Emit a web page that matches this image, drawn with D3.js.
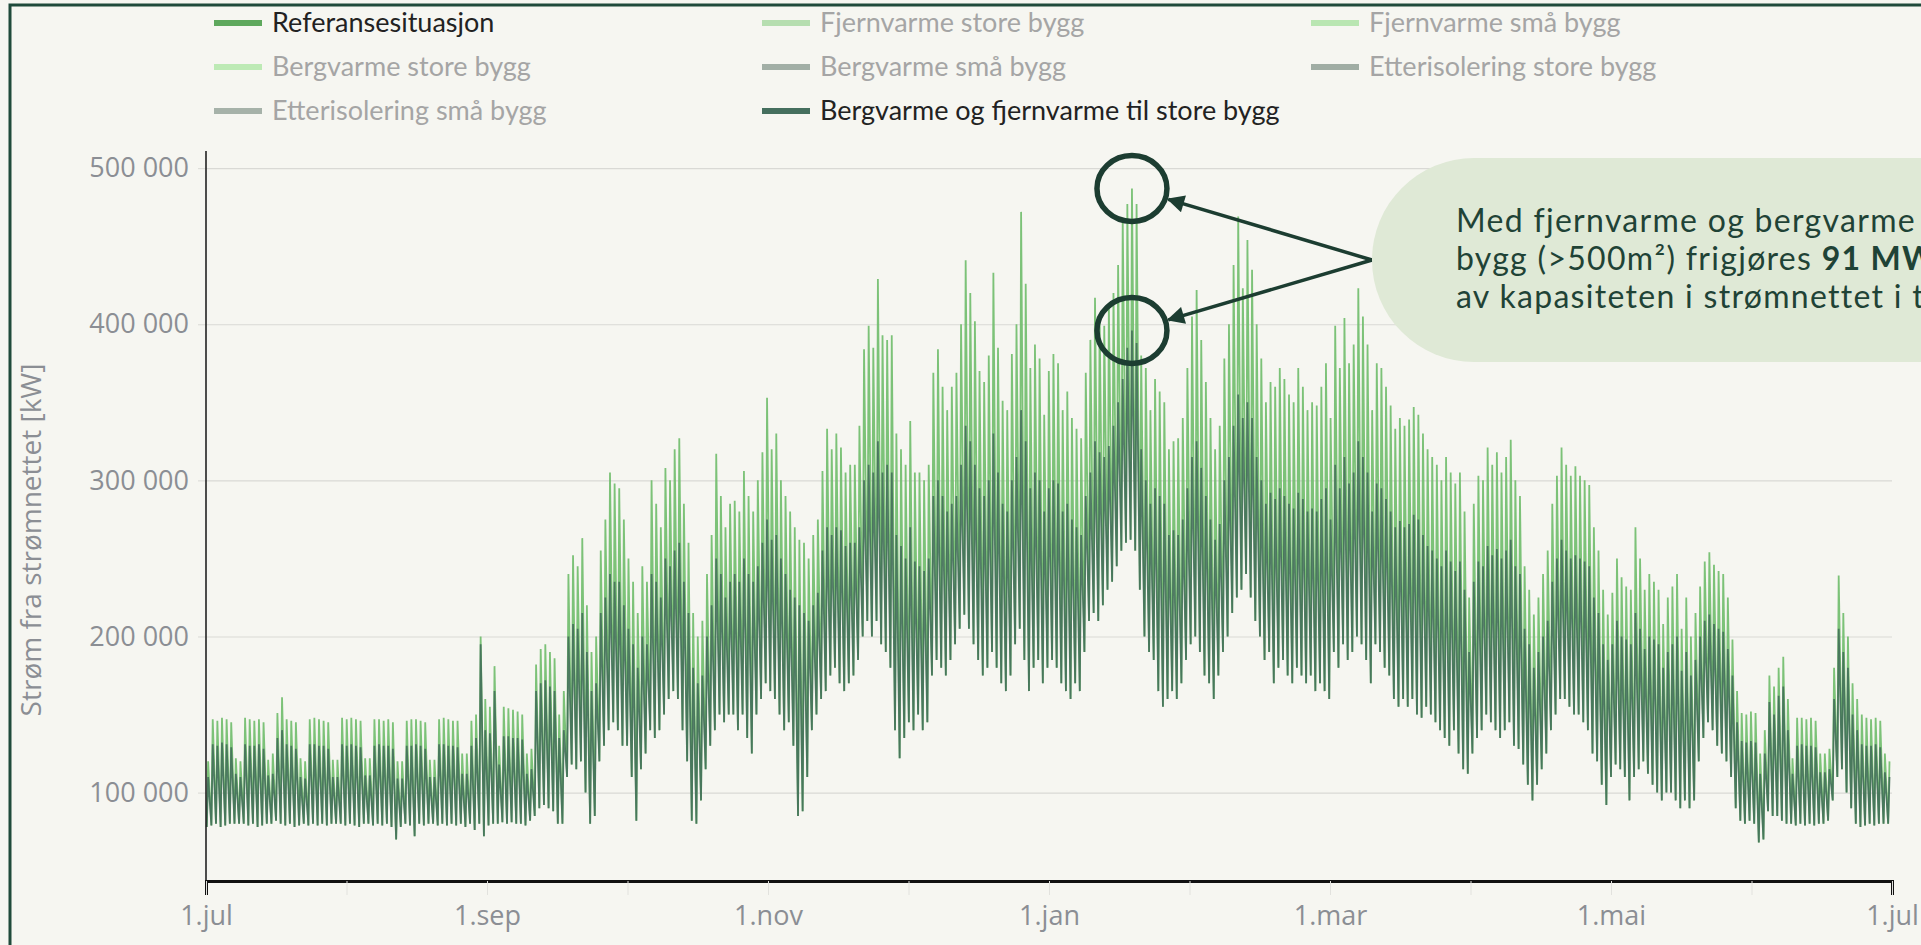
<!DOCTYPE html>
<html>
<head>
  <meta charset="UTF-8">
  <title>Strøm fra strømnettet</title>
  <style>
    body {
      margin: 0;
      background-color: #f6f6f1;
      overflow: hidden;
    }

    svg {
      display: block;
    }

    .axis text {
      font-family: "Open Sans", sans-serif;
      fill: #8b8e94;
    }
  </style>
</head>

<body>
  <svg id="chart" width="1921" height="945"></svg>

  <script src="https://cdnjs.cloudflare.com/ajax/libs/d3/7.8.5/d3.min.js"></script>
  <script>
    // Daily values, in 1000 kW, one row per week (Sun..Sat), starting 1.jul
    const refHigh = [
      120, 147, 146, 148, 147, 145, 122,
      120, 148, 147, 146, 147, 145, 121,
      125, 151, 161, 147, 146, 145, 122,
      120, 147, 148, 147, 146, 145, 121,
      121, 148, 147, 148, 147, 146, 122,
      122, 147, 147, 146, 147, 145, 120,
      120, 146, 147, 147, 146, 145, 121,
      121, 147, 148, 147, 146, 146, 125,
      125, 146, 150, 200, 160, 155, 181,
      130, 155, 154, 153, 152, 150, 125,
      128, 182, 192, 195, 190, 186, 150,
      165, 240, 252, 245, 263, 220, 190,
      200, 255, 275, 305, 298, 295, 275,
      250, 235, 215, 245, 235, 300, 285,
      270, 308, 300, 320, 327, 285, 260,
      215, 200, 210, 240, 265, 317, 290,
      270, 285, 287, 280, 306, 290, 280,
      300, 318, 353, 320, 330, 300, 290,
      280, 270, 262, 260, 250, 265, 275,
      306, 333, 320, 330, 321, 305, 310,
      310, 335, 384, 399, 385, 429, 393,
      390, 393, 330, 320, 310, 338, 305,
      305, 300, 310, 369, 384, 360, 345,
      360, 369, 400, 441, 420, 402, 370,
      363, 380, 433, 385, 351, 345, 381,
      400, 472, 426, 372, 387, 378, 342,
      370, 381, 375, 345, 357, 340, 333,
      327, 369, 390, 417, 405, 399, 412,
      420, 438, 468, 477, 487, 477, 380,
      372, 345, 365, 357, 350, 320, 325,
      327, 340, 372, 405, 422, 390, 363,
      340, 320, 335, 378, 400, 438, 469,
      423, 454, 435, 400, 378, 350, 363,
      360, 372, 365, 355, 350, 372, 360,
      345, 350, 348, 360, 375, 340, 399,
      372, 404, 375, 387, 423, 405, 387,
      345, 375, 372, 360, 348, 333, 340,
      335, 339, 347, 342, 330, 320, 315,
      310, 300, 315, 305, 298, 305, 280,
      225, 285, 303, 300, 321, 310, 318,
      305, 315, 326, 300, 290, 245, 230,
      214, 225, 240, 255, 285, 303, 321,
      310, 303, 309, 303, 300, 297, 270,
      255, 230, 214, 228, 250, 238, 232,
      230, 270, 250, 230, 240, 235, 230,
      208, 225, 232, 240, 205, 225, 200,
      215, 232, 248, 254, 246, 242, 240,
      225, 198, 165, 151, 150, 152, 151,
      125, 140, 175, 168, 180, 187, 160,
      122, 148, 148, 147, 148, 146, 125,
      125, 128, 180, 239, 215, 200, 170,
      160, 150, 148, 147, 148, 146, 125,
      120
    ];

    const altHigh = [
      110, 131, 130, 132, 131, 129, 112,
      110, 131, 130, 130, 131, 128, 111,
      112, 135, 140, 131, 130, 128, 110,
      109, 131, 131, 130, 130, 128, 110,
      110, 131, 130, 131, 130, 129, 111,
      111, 130, 131, 130, 130, 128, 109,
      109, 130, 130, 131, 130, 128, 110,
      110, 131, 131, 130, 130, 129, 112,
      112, 130, 135, 195, 140, 138, 165,
      118, 136, 136, 135, 135, 134, 112,
      115, 165, 170, 172, 168, 165, 135,
      140, 200, 208, 205, 215, 190, 165,
      170, 215, 225, 240, 235, 235, 220,
      205, 195, 180, 200, 195, 240, 235,
      225, 250, 245, 255, 260, 235, 215,
      180, 170, 175, 200, 220, 250, 240,
      225, 235, 240, 235, 250, 240, 235,
      245, 260, 275, 262, 265, 250, 240,
      230, 225, 220, 215, 210, 220, 228,
      255, 270, 265, 270, 268, 258, 260,
      260, 270, 300, 310, 305, 325, 305,
      310, 305, 265, 258, 250, 270, 248,
      245, 242, 250, 290, 300, 290, 280,
      285, 290, 310, 335, 325, 310, 295,
      290, 300, 330, 305, 285, 280, 300,
      315, 345, 325, 295, 305, 300, 280,
      295, 300, 298, 280, 285, 275, 270,
      265, 290, 305, 325, 318, 315, 322,
      335, 350, 365, 385, 396, 388, 320,
      300, 285, 295, 290, 285, 265, 268,
      265, 275, 295, 315, 325, 308, 290,
      275, 262, 272, 300, 315, 335, 355,
      340, 350, 340, 315, 300, 285, 292,
      288, 295, 290, 285, 282, 292, 288,
      280, 282, 280, 288, 295, 275, 310,
      295, 315, 298, 305, 325, 315, 305,
      280, 298, 295, 288, 280, 270, 274,
      270, 272, 278, 275, 265, 258, 255,
      250, 245, 255, 248, 242, 248, 230,
      190, 235, 248, 245, 258, 252, 256,
      250, 255, 262, 245, 240, 205, 195,
      180, 190, 200, 210, 235, 250, 262,
      255, 250, 252, 250, 248, 245, 225,
      215, 195, 185, 195, 210, 200, 198,
      195, 215, 205, 192, 200, 198, 195,
      180, 190, 195, 200, 178, 190, 175,
      185, 200, 210, 214, 208, 205, 203,
      192, 175, 145, 133, 132, 133, 132,
      112, 125, 158, 150, 162, 168, 140,
      112, 130, 131, 130, 130, 129, 113,
      113, 115, 160, 205, 190, 180, 150,
      140, 131, 130, 130, 131, 129, 113,
      110
    ];

    // night-time lows, shared by both visible series
    const dayLow = [
      78, 79, 80, 78, 79, 80, 80,
      80, 80, 79, 80, 78, 79, 80,
      80, 82, 80, 79, 80, 78, 79,
      80, 79, 80, 79, 80, 79, 80,
      80, 80, 79, 80, 79, 78, 80,
      80, 79, 80, 79, 80, 78, 70,
      78, 80, 79, 72, 80, 79, 80,
      80, 79, 80, 79, 80, 79, 80,
      78, 80, 76, 80, 72, 79, 80,
      80, 81, 80, 81, 80, 80, 79,
      82, 85, 90, 92, 90, 88, 80,
      80, 110, 118, 115, 120, 100, 80,
      85, 120, 130, 140, 145, 140, 130,
      130, 110, 82, 115, 125, 140, 135,
      140, 150, 160, 165, 160, 140, 120,
      82, 80, 95, 115, 130, 140, 150,
      145, 150, 150, 140, 150, 135, 125,
      150, 160, 170, 165, 160, 150, 140,
      145, 130, 85, 88, 110, 140, 150,
      160, 165, 175, 180, 170, 165, 170,
      175, 185, 200, 210, 200, 210, 195,
      190, 180, 140, 122, 135, 145, 140,
      150, 140, 145, 175, 185, 180, 175,
      185, 195, 205, 214, 205, 195, 185,
      175, 180, 190, 180, 170, 165, 175,
      195, 205, 185, 165, 180, 185, 170,
      180, 185, 180, 170, 165, 160, 170,
      165, 190, 210, 215, 210, 220, 230,
      235, 245, 255, 260, 262, 255, 230,
      200, 190, 185, 165, 155, 160, 165,
      160, 170, 185, 195, 200, 190, 175,
      170, 160, 175, 190, 200, 215, 225,
      230, 240, 225, 210, 200, 185, 190,
      170, 180, 185, 175, 170, 180, 175,
      170, 175, 165, 170, 165, 160, 190,
      180, 195, 185, 190, 200, 195, 185,
      170, 195, 190, 180, 175, 160, 155,
      160, 155, 160, 150, 148, 155, 150,
      145, 140, 135, 130, 140, 125, 115,
      112, 125, 135, 140, 150, 145, 140,
      135, 140, 145, 130, 128, 118, 105,
      95, 105, 115, 125, 140, 150, 160,
      160, 155, 150, 150, 145, 140, 125,
      120, 105, 92, 110, 118, 115, 110,
      95, 110, 115, 120, 112, 105, 100,
      95, 100, 100, 95, 90, 95, 90,
      95, 120, 135, 145, 140, 130, 125,
      120, 110, 90, 82, 80, 82, 80,
      68, 70, 88, 85, 85, 82, 80,
      80, 79, 80, 79, 80, 79, 80,
      80, 82, 95, 110, 115, 100, 90,
      80, 78, 79, 80, 79, 80, 80,
      80
    ];

    const seriesNames = [
      "Referansesituasjon", "Fjernvarme store bygg", "Fjernvarme små bygg",
      "Bergvarme store bygg", "Bergvarme små bygg", "Etterisolering store bygg",
      "Etterisolering små bygg", "Bergvarme og fjernvarme til store bygg"
    ];
    const seriesColors = [
      "#5ea85d", "#b6deb0", "#b9e6b2",
      "#bdeab5", "#a2afa6", "#a0ada4",
      "#a6b2a9", "#456f5e"
    ];
    const seriesVisible = [true, false, false, false, false, false, false, true];

    const xTickLabels = ["1.jul", "1.aug", "1.sep", "1.okt", "1.nov", "1.des", "1.jan",
      "1.feb", "1.mar", "1.apr", "1.mai", "1.jun", "1.jul"];
    const yTicks = [100000, 200000, 300000, 400000, 500000];

    const noteLines = [
      [{ t: "Med fjernvarme og bergvarme til store" }],
      [{ t: "bygg (>500m²) frigjøres " }, { t: "91 MW", bold: true }],
      [{ t: "av kapasiteten i strømnettet i toppen" }]
    ];

    const UNIT = 1000;
    const HOURS = 8760;

    const svg = d3.select("#chart");

    const x = d3.scaleLinear().domain([0, HOURS]).range([206, 1892]);
    const y = d3.scaleLinear().domain([44000, 511000]).range([880, 151]);

    const nb = d3.formatLocale({ decimal: ",", thousands: " ", grouping: [3], currency: ["", ""] });
    const fmt = nb.format(",d");

    // frame
    svg.append("path")
      .attr("d", "M10,946V5H1922")
      .attr("fill", "none")
      .attr("stroke", "#1f4a3b")
      .attr("stroke-width", 3);

    // gridlines
    svg.append("g")
      .attr("transform", "translate(206,0)")
      .call(d3.axisRight(y).tickValues(yTicks).tickSize(1892 - 206).tickFormat(""))
      .call(g => g.select(".domain").remove())
      .call(g => g.selectAll("line").attr("stroke", "#d9d9d5").attr("stroke-width", 1.2));

    // series
    function dailyPoints(highs) {
      const pts = [];
      highs.forEach((h, d) => {
        pts.push([d * 24 + 4, dayLow[d] * UNIT]);
        pts.push([d * 24 + 11, h * UNIT]);
      });
      return pts;
    }

    const line = d3.line()
      .x(d => x(d[0]))
      .y(d => y(d[1]));

    svg.append("path")
      .datum(dailyPoints(refHigh))
      .attr("d", line)
      .attr("fill", "none")
      .attr("stroke", "#6fbd6a")
      .attr("stroke-opacity", 0.9)
      .attr("stroke-width", 1.8);

    svg.append("path")
      .datum(dailyPoints(altHigh))
      .attr("d", line)
      .attr("fill", "none")
      .attr("stroke", "#3f6b57")
      .attr("stroke-opacity", 0.85)
      .attr("stroke-width", 1.8);

    // y axis
    const yAxis = svg.append("g")
      .attr("class", "axis")
      .attr("transform", "translate(206,0)")
      .call(d3.axisLeft(y).tickValues(yTicks).tickSize(8).tickPadding(9).tickFormat(fmt));
    yAxis.select(".domain").remove();
    yAxis.selectAll("line").attr("stroke", "#d9d9d5");
    yAxis.selectAll("text").attr("font-size", 27);

    svg.append("line")
      .attr("x1", 206).attr("x2", 206)
      .attr("y1", y.range()[1]).attr("y2", y.range()[0])
      .attr("stroke", "#222")
      .attr("stroke-width", 1.6);

    // x axis
    const xAxis = svg.append("g")
      .attr("class", "axis")
      .attr("transform", "translate(0,881)")
      .call(d3.axisBottom(x)
        .tickValues(d3.range(0, HOURS + 1, HOURS / 12))
        .tickSize(14)
        .tickFormat((d, i) => i % 2 === 0 ? xTickLabels[i] : ""));
    xAxis.select(".domain").attr("stroke", "#111").attr("stroke-width", 3);
    xAxis.selectAll("line").attr("stroke", "#e2e2de");
    xAxis.selectAll("text").attr("font-size", 27).attr("y", 44).attr("dy", 0);

    svg.append("text")
      .attr("transform", "translate(41,540) rotate(-90)")
      .attr("text-anchor", "middle")
      .attr("font-family", "'Open Sans', sans-serif")
      .attr("font-size", 28)
      .attr("fill", "#8b8e94")
      .text("Strøm fra strømnettet [kW]");

    // legend
    const legendCols = [214, 762, 1311];
    const legendRows = [32, 76, 120];
    const legend = svg.append("g")
      .selectAll("g")
      .data(seriesNames)
      .join("g")
      .attr("transform", (d, i) => `translate(${legendCols[i % 3]},${legendRows[Math.floor(i / 3)]})`);
    legend.append("rect")
      .attr("x", 0).attr("y", -12)
      .attr("width", 48).attr("height", 6)
      .attr("fill", (d, i) => seriesColors[i]);
    legend.append("text")
      .attr("x", 58)
      .attr("font-family", "Lato, sans-serif")
      .attr("font-size", 27)
      .attr("fill", (d, i) => seriesVisible[i] ? "#222" : "#a5a5a5")
      .text(d => d);

    // annotation
    const peakDay = d3.maxIndex(refHigh);
    const peakX = x(peakDay * 24 + 11);
    const marks = [
      { cx: peakX, cy: y(refHigh[peakDay] * UNIT) },
      { cx: peakX, cy: y(altHigh[peakDay] * UNIT) }
    ];
    const bubble = { x: 1372, y: 158, h: 204 };
    const src = { x: bubble.x, y: bubble.y + bubble.h / 2 };

    svg.append("defs").append("marker")
      .attr("id", "head")
      .attr("viewBox", "0 0 10 10")
      .attr("refX", 9).attr("refY", 5)
      .attr("markerWidth", 6).attr("markerHeight", 5)
      .attr("markerUnits", "strokeWidth")
      .attr("orient", "auto")
      .append("path")
      .attr("d", "M0,0L10,5L0,10Z")
      .attr("fill", "#1c3d31");

    svg.selectAll("ellipse.mark")
      .data(marks)
      .join("ellipse")
      .attr("class", "mark")
      .attr("cx", d => d.cx).attr("cy", d => d.cy)
      .attr("rx", 35).attr("ry", 33)
      .attr("fill", "none")
      .attr("stroke", "#1c3d31")
      .attr("stroke-width", 5.5);

    function towards(d, key) {
      const dx = d.cx - src.x, dy = d.cy - src.y, len = Math.hypot(dx, dy);
      return key === "x" ? d.cx - dx / len * 38 : d.cy - dy / len * 38;
    }

    svg.selectAll("line.arrow")
      .data(marks)
      .join("line")
      .attr("class", "arrow")
      .attr("x1", src.x).attr("y1", src.y)
      .attr("x2", d => towards(d, "x"))
      .attr("y2", d => towards(d, "y"))
      .attr("stroke", "#1c3d31")
      .attr("stroke-width", 3.5)
      .attr("marker-end", "url(#head)");

    svg.append("rect")
      .attr("x", bubble.x).attr("y", bubble.y)
      .attr("width", 700).attr("height", bubble.h)
      .attr("rx", bubble.h / 2).attr("ry", bubble.h / 2)
      .attr("fill", "#dfe9d6");

    const note = svg.append("text")
      .attr("font-family", "Lato, sans-serif")
      .attr("font-size", 32)
      .attr("letter-spacing", 1.3)
      .attr("fill", "#1f4336");
    noteLines.forEach((parts, i) => {
      const row = note.append("tspan").attr("x", 1456).attr("y", 232 + i * 38);
      parts.forEach(p => {
        row.append("tspan")
          .attr("font-weight", p.bold ? 700 : 400)
          .text(p.t);
      });
    });
  </script>
</body>

</html>
